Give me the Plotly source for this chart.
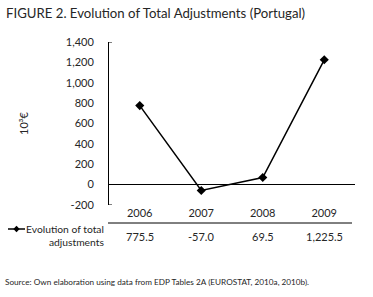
import plotly.graph_objects as go

years = ["2006", "2007", "2008", "2009"]
values = [775.5, -57.0, 69.5, 1225.5]
value_labels = ["775.5", "-57.0", "69.5", "1,225.5"]
y_ticks = [-200, 0, 200, 400, 600, 800, 1000, 1200, 1400]
y_tick_labels = ["-200", "0", "200", "400", "600", "800", "1,000", "1,200", "1,400"]

FONT = "Lato"
TXT = "#262626"

W, H = 373, 297
L, R, T, B = 109, 18, 42, 92

xpos = list(range(len(years)))

fig = go.Figure()
fig.add_trace(go.Scatter(
    x=xpos, y=values, mode="lines+markers",
    line=dict(color="black", width=1.5),
    marker=dict(symbol="diamond", size=7, color="black"),
    showlegend=False, hoverinfo="skip"))

ph = H - T - B
pw = W - L - R
def py(pix):
    return (H - B - pix) / ph
def pxf(pix):
    return (pix - L) / pw

annotations = []
annotations.append(dict(text="FIGURE 2. Evolution of Total Adjustments (Portugal)",
                        xref="paper", yref="paper", x=pxf(4), y=py(13),
                        xanchor="left", yanchor="middle", showarrow=False,
                        font=dict(family=FONT, size=13.2, color=TXT)))
annotations.append(dict(text="Source: Own elaboration using data from EDP Tables 2A (EUROSTAT, 2010a, 2010b).",
                        xref="paper", yref="paper", x=pxf(3), y=py(282),
                        xanchor="left", yanchor="middle", showarrow=False,
                        font=dict(family=FONT, size=8.2, color=TXT)))
for xi, lab in zip(xpos, value_labels):
    annotations.append(dict(text=lab, xref="x", yref="paper", x=xi, y=py(236),
                            xanchor="center", yanchor="middle", showarrow=False,
                            font=dict(family=FONT, size=11, color=TXT)))
annotations.append(dict(text="Evolution of total<br>adjustments", xref="paper", yref="paper",
                        x=pxf(106), y=py(235), xanchor="right", yanchor="middle",
                        align="right", showarrow=False,
                        font=dict(family=FONT, size=10.3, color=TXT)))

shapes = []
shapes.append(dict(type="line", xref="paper", yref="paper", x0=pxf(108), x1=pxf(352),
                   y0=py(223), y1=py(223), line=dict(color="black", width=1)))
for yv in [y_ticks[0], y_ticks[-1]]:
    shapes.append(dict(type="line", xref="paper", yref="y", x0=0, x1=pxf(112), y0=yv, y1=yv,
                       line=dict(color="black", width=1)))
shapes.append(dict(type="line", xref="paper", yref="paper", x0=pxf(8), x1=pxf(25),
                   y0=py(229), y1=py(229), line=dict(color="black", width=1.5)))
cx, cy, d = 16.5, 229, 3.2
shapes.append(dict(type="path", xref="paper", yref="paper",
                   path=f"M {pxf(cx-d)},{py(cy)} L {pxf(cx)},{py(cy-d)} L {pxf(cx+d)},{py(cy)} L {pxf(cx)},{py(cy+d)} Z",
                   fillcolor="black", line=dict(color="black", width=0)))

fig.update_layout(
    width=W, height=H, margin=dict(l=L, r=R, t=T, b=B, pad=0),
    paper_bgcolor="white", plot_bgcolor="white",
    font=dict(family=FONT, size=11, color=TXT),
    annotations=annotations, shapes=shapes,
    xaxis=dict(range=[-0.5, len(years) - 0.5], tickvals=xpos, ticktext=years,
               showgrid=False, zeroline=False, showline=False, ticks="",
               tickfont=dict(family=FONT, size=11, color=TXT), fixedrange=True),
    yaxis=dict(range=[-200, 1400], tickvals=y_ticks, ticktext=y_tick_labels,
               showgrid=False, zeroline=True, zerolinecolor="black", zerolinewidth=1,
               showline=True, linecolor="black", linewidth=1,
               ticks="outside", ticklen=12, tickcolor="rgba(0,0,0,0)",
               tickfont=dict(family=FONT, size=11, color=TXT), fixedrange=True,
               title=dict(text="10³€", font=dict(family=FONT, size=11, color=TXT), standoff=34)),
)
fig.write_html("out.html", config={"displayModeBar": False},
               post_script="document.body.style.margin='0';")
